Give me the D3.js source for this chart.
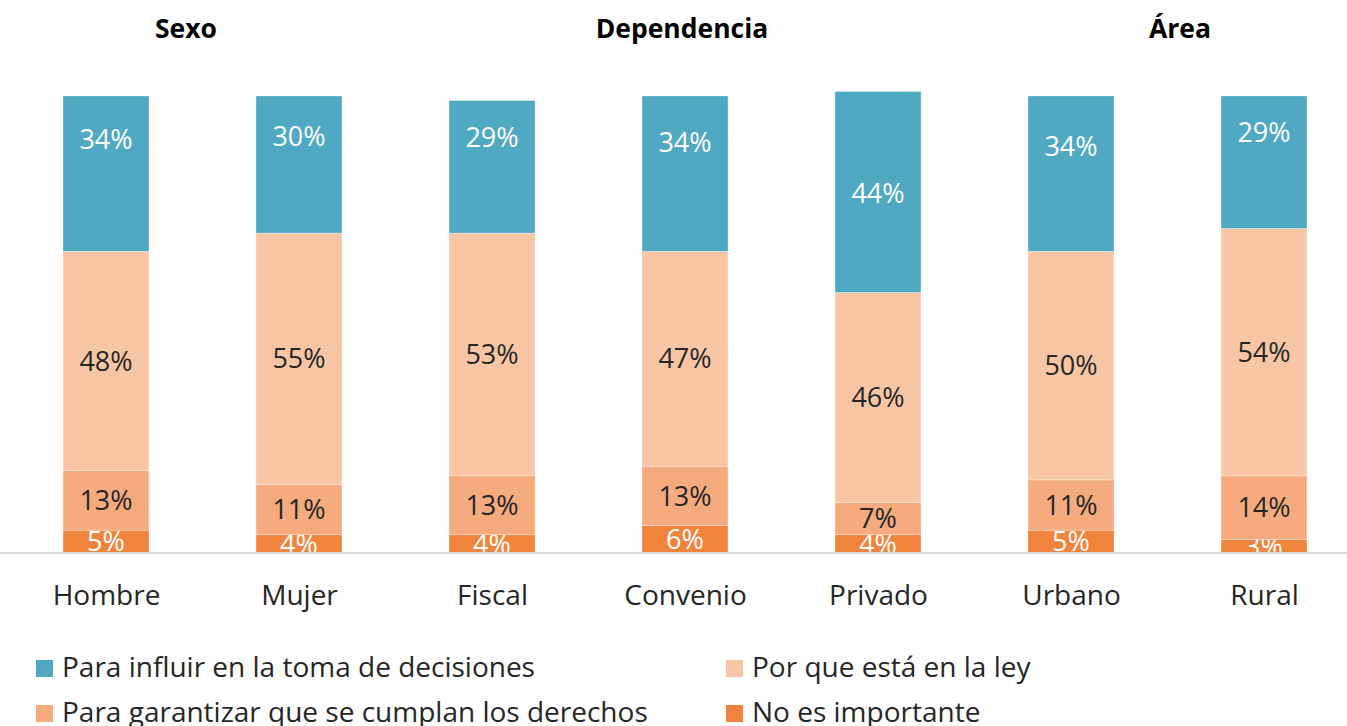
<!DOCTYPE html>
<html>
<head>
<meta charset="utf-8">
<script src="https://cdn.jsdelivr.net/npm/d3@7"></script>
<style>
  body { margin: 0; background: #fff; }
  svg text { font-family: "Open Sans", "Noto Sans", sans-serif; }
</style>
</head>
<body>
<svg id="chart" width="1347" height="726"></svg>
<script>
// data
var categories = ["Hombre", "Mujer", "Fiscal", "Convenio", "Privado", "Urbano", "Rural"];
var seriesNames = ["No es importante", "Para garantizar que se cumplan los derechos", "Por que está en la ley", "Para influir en la toma de decisiones"];
var noImportante = [5, 4, 4, 6, 4, 5, 3];
var garantizar = [13, 11, 13, 13, 7, 11, 14];
var porLey = [48, 55, 53, 47, 46, 50, 54];
var influir = [34, 30, 29, 34, 44, 34, 29];
var groups = ["Sexo", "Dependencia", "Área"];

var colors = ["#F0843D", "#F5AB7E", "#F8C6A4", "#4FA9C3"];
var labelColors = ["#fff", "#262626", "#262626", "#fff"];
// the top labels are placed by hand in the original, shift in px from middle
var topLabelShift = [-34, -28, -30, -31, 1, -27, -30];

var svg = d3.select("#chart");
var baseY = 553, topY = 96;

var x = d3.scalePoint().domain(categories).range([9.5, 1360.5]).padding(0.5);
var y = d3.scaleLinear().domain([0, 100]).range([baseY, topY]);
var barW = 86;

var rows = categories.map(function (c, i) {
  return { cat: c, v0: noImportante[i], v1: garantizar[i], v2: porLey[i], v3: influir[i] };
});
var stack = d3.stack().keys(["v0", "v1", "v2", "v3"])(rows);

svg.append("defs").append("clipPath").attr("id", "plot")
  .append("rect").attr("x", 0).attr("y", 0).attr("width", 1347).attr("height", baseY);

var plot = svg.append("g").attr("clip-path", "url(#plot)");

stack.forEach(function (layer, k) {
  var g = plot.append("g");
  g.selectAll("rect").data(layer).enter().append("rect")
    .attr("x", function (d) { return x(d.data.cat) - barW / 2; })
    .attr("width", barW)
    .attr("y", function (d) { return y(d[1]); })
    .attr("height", function (d) { return y(d[0]) - y(d[1]); })
    .style("fill", colors[k])
    .style("stroke", "#fff").style("stroke-width", 0.6).style("stroke-opacity", 0.5);
  g.selectAll("text").data(layer).enter().append("text")
    .attr("x", function (d) { return x(d.data.cat); })
    .attr("y", function (d, i) {
      var mid = (y(d[0]) + y(d[1])) / 2;
      return mid + (k == 3 ? topLabelShift[i] : 0);
    })
    .attr("dy", "0.36em")
    .attr("text-anchor", "middle")
    .style("font-size", "27px")
    .style("fill", labelColors[k])
    .text(function (d) { return (d[1] - d[0]) + "%"; });
});

// axis
var axis = d3.axisBottom(x).tickSize(0).tickPadding(32);
var ax = svg.append("g").attr("transform", "translate(0," + baseY + ")").call(axis);
ax.select(".domain").attr("d", "M0,0H1347").style("stroke", "#D9D9D9").style("stroke-width", 2);
ax.selectAll("text").style("font-size", "28px").style("fill", "#262626").style("font-family", "'Open Sans', 'Noto Sans', sans-serif");

// group headers
var headerX = [186, 682, 1180];
svg.selectAll(".hdr").data(groups).enter().append("text")
  .attr("class", "hdr")
  .attr("x", function (d, i) { return headerX[i]; })
  .attr("y", 28).attr("dy", "0.36em")
  .attr("text-anchor", "middle")
  .style("font-size", "26.5px").style("font-weight", "bold").style("fill", "#000")
  .text(function (d) { return d; });

// legend (descenders of the second row run off the bottom edge, as in the original)
var legendItems = [
  { name: seriesNames[3], color: colors[3], x: 36, y: 677 },
  { name: seriesNames[2], color: colors[2], x: 726, y: 677 },
  { name: seriesNames[1], color: colors[1], x: 36, y: 722 },
  { name: seriesNames[0], color: colors[0], x: 726, y: 722 }
];
var lg = svg.selectAll(".lg").data(legendItems).enter().append("g").attr("class", "lg");
lg.append("rect")
  .attr("x", function (d) { return d.x; })
  .attr("y", function (d) { return d.y - 17; })
  .attr("width", 17).attr("height", 17)
  .style("fill", function (d) { return d.color; });
lg.append("text")
  .attr("x", function (d) { return d.x + 26; })
  .attr("y", function (d) { return d.y; })
  .style("font-size", "28px").style("fill", "#262626")
  .text(function (d) { return d.name; });
</script>
</body>
</html>
